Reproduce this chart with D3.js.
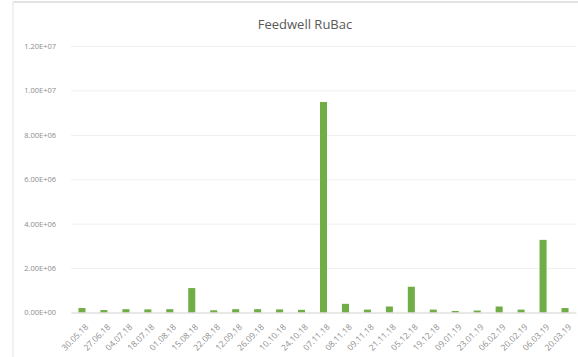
<!DOCTYPE html>
<html>
<head>
<meta charset="utf-8">
<script src="https://cdn.jsdelivr.net/npm/d3@7"></script>
<style>
  html, body { margin: 0; padding: 0; background: #fff; }
  svg { display: block; }
  text { font-family: "Open Sans", "Noto Sans", sans-serif; }
</style>
</head>
<body>
<svg id="chart" width="578" height="357"></svg>
<script>
// Sample dates (category axis)
const dates = [
  "30.05.18", "27.06.18", "04.07.18", "18.07.18", "01.08.18", "15.08.18",
  "22.08.18", "12.09.18", "26.09.18", "10.10.18", "24.10.18", "07.11.18",
  "08.11.18", "09.11.18", "21.11.18", "05.12.18", "19.12.18", "09.01.19",
  "23.01.19", "06.02.19", "20.02.19", "06.03.19", "20.03.19"
];
// Measured values per date
const values = [
  200000, 110000, 150000, 140000, 150000, 1100000,
  100000, 150000, 150000, 140000, 120000, 9480000,
  390000, 130000, 270000, 1160000, 130000, 70000,
  90000, 270000, 130000, 3270000, 200000
];
// Value axis ticks
const yTicks = [0, 2e6, 4e6, 6e6, 8e6, 1e7, 1.2e7];
const yTickLabels = ["0.00E+00", "2.00E+06", "4.00E+06", "6.00E+06", "8.00E+06", "1.00E+07", "1.20E+07"];
const title = "Feedwell RuBac";

const svg = d3.select("#chart");
const W = 578, H = 357;
const plot = { left: 71, right: 576, top: 46, bottom: 312.5 };

// Chart frame
svg.append("line").attr("x1", 13).attr("x2", W).attr("y1", 2).attr("y2", 2)
  .attr("stroke", "#d9d9d9").attr("stroke-width", 1.5);
svg.append("line").attr("x1", 13).attr("x2", 13).attr("y1", 2).attr("y2", H)
  .attr("stroke", "#e3e3e3").attr("stroke-width", 1);

const x = d3.scaleBand().domain(dates).range([plot.left, plot.right]).paddingInner(0.68).paddingOuter(0.34);
const y = d3.scaleLinear().domain([0, 1.2e7]).range([plot.bottom, plot.top]);

// Title
svg.append("text").attr("x", 305).attr("y", 29).attr("text-anchor", "middle")
  .attr("font-size", 13).attr("fill", "#595959").text(title);

// Gridlines + y labels
const yAxis = d3.axisLeft(y).tickValues(yTicks)
  .tickSize(-(plot.right - plot.left)).tickPadding(15)
  .tickFormat((d, i) => yTickLabels[i]);
const gy = svg.append("g").attr("transform", `translate(${plot.left},0)`).call(yAxis);
gy.select(".domain").remove();
gy.selectAll(".tick line").attr("stroke", "#efefef").attr("stroke-width", 1);
gy.selectAll(".tick text").attr("font-size", 7.5).attr("fill", "#8c8c8c");

// Bars
svg.append("g").selectAll("rect").data(values).join("rect")
  .attr("x", (d, i) => x(dates[i]))
  .attr("width", x.bandwidth())
  .attr("y", d => y(d))
  .attr("height", d => y(0) - y(d))
  .attr("fill", "#70ad47");

// Category axis
const xAxis = d3.axisBottom(x).tickSize(0).tickPadding(0);
const gx = svg.append("g").attr("transform", `translate(0,${plot.bottom})`).call(xAxis);
gx.select(".domain").attr("stroke", "#d9d9d9");
gx.selectAll(".tick text")
  .attr("font-size", 8.5).attr("fill", "#8c8c8c")
  .attr("text-anchor", "end")
  .attr("dy", 0)
  .attr("transform", "translate(7,15) rotate(-45)");
</script>
</body>
</html>
